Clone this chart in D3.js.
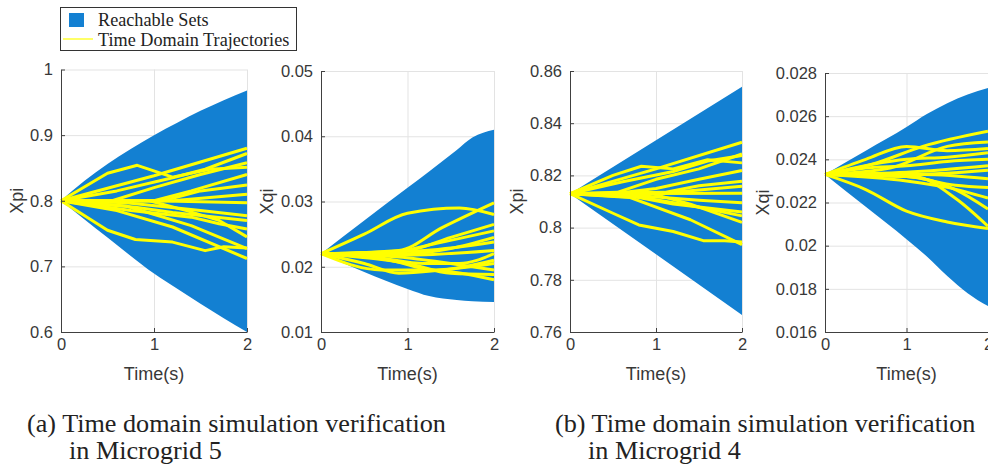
<!DOCTYPE html>
<html>
<head>
<meta charset="utf-8">
<script src="https://cdn.jsdelivr.net/npm/d3@7"></script>
<style>
  body { margin: 0; background: #fff; }
  svg { display: block; }
  .tick text { font-family: "Liberation Sans", Arial, sans-serif; font-size: 16.5px; fill: #383838; }
  .axis path, .axis line { stroke: #404040; }
  .grid line { stroke: #e3e3e3; }
  .grid path { display: none; }
  .lbl { font-family: "Liberation Sans", Arial, sans-serif; font-size: 18px; fill: #383838; }
  .serif { font-family: "Liberation Serif", "Times New Roman", serif; fill: #222; }
</style>
</head>
<body>
<div id="graph"></div>
<script>
// ---- data ----
const timeTicks = [0, 1, 2];

// Microgrid 5, Xpi
const mg5XpiTicks = [0.6, 0.7, 0.8, 0.9, 1];
const mg5XpiEnvT = [0, 0.25, 0.5, 0.75, 1, 1.25, 1.5, 1.75, 2];
const mg5XpiUpper = [0.8, 0.83, 0.856, 0.879, 0.9, 0.919, 0.937, 0.953, 0.968];
const mg5XpiLower = [0.8, 0.772, 0.744, 0.716, 0.689, 0.666, 0.643, 0.621, 0.6];
const mg5XpiTraj = [
  [[0, 0.8], [0.5, 0.842], [0.82, 0.854], [1.2, 0.836], [1.6, 0.848], [2, 0.851]],
  [[0, 0.8], [1, 0.838], [2, 0.88]],
  [[0, 0.8], [0.6, 0.815], [1.2, 0.835], [1.55, 0.848], [2, 0.872]],
  [[0, 0.8], [0.55, 0.8], [1, 0.82], [1.5, 0.84], [2, 0.858]],
  [[0, 0.8], [1.0, 0.8], [1.4, 0.815], [2, 0.84]],
  [[0, 0.8], [1.1, 0.8], [1.5, 0.815], [2, 0.824]],
  [[0, 0.8], [1.2, 0.8], [2, 0.81]],
  [[0, 0.8], [1.0, 0.8], [2, 0.797]],
  [[0, 0.8], [0.7, 0.797], [1.5, 0.785], [2, 0.777]],
  [[0, 0.8], [0.8, 0.79], [1.2, 0.782], [2, 0.77]],
  [[0, 0.8], [0.75, 0.785], [1.4, 0.775], [1.7, 0.765], [2, 0.757]],
  [[0, 0.8], [0.7, 0.792], [1.4, 0.762], [2, 0.727]],
  [[0, 0.8], [0.5, 0.755], [0.8, 0.741], [1.2, 0.737], [1.55, 0.724], [1.75, 0.73], [2, 0.728]],
  [[0, 0.8], [0.6, 0.785], [1.2, 0.76], [2, 0.712]],
  [[0, 0.8], [0.95, 0.8], [1.35, 0.785], [1.7, 0.77], [2, 0.745]]
];

// Microgrid 5, Xqi
const mg5XqiTicks = [0.01, 0.02, 0.03, 0.04, 0.05];
const mg5XqiEnvT = [0, 0.5, 1, 1.25, 1.57, 1.75, 2];
const mg5XqiUpper = [0.022, 0.0271, 0.0321, 0.0346, 0.0379, 0.0398, 0.041];
const mg5XqiLower = [0.022, 0.0192, 0.0166, 0.0155, 0.0149, 0.0147, 0.0146];
const mg5XqiTraj = [
  [[0, 0.022], [0.5, 0.025], [1, 0.0282], [1.6, 0.029], [2, 0.028]],
  [[0, 0.022], [0.9, 0.0225], [1.4, 0.026], [2, 0.0298]],
  [[0, 0.022], [1, 0.0225], [1.5, 0.0245], [2, 0.0265]],
  [[0, 0.022], [0.8, 0.0222], [1.3, 0.0235], [2, 0.0255]],
  [[0, 0.022], [1, 0.022], [1.5, 0.0228], [2, 0.0245]],
  [[0, 0.022], [1.2, 0.0225], [2, 0.0238]],
  [[0, 0.022], [1, 0.0218], [2, 0.0225]],
  [[0, 0.022], [0.6, 0.0215], [1.2, 0.0205], [1.6, 0.0205], [2, 0.022]],
  [[0, 0.022], [0.8, 0.021], [1.3, 0.0195], [2, 0.021]],
  [[0, 0.022], [0.5, 0.0205], [0.9, 0.019], [1.4, 0.0195], [2, 0.0205]],
  [[0, 0.022], [0.7, 0.0195], [1.2, 0.0195], [2, 0.018]],
  [[0, 0.022], [1, 0.0205], [1.5, 0.019], [2, 0.0188]],
  [[0, 0.022], [0.9, 0.0215], [1.5, 0.0205], [2, 0.0195]]
];

// Microgrid 4, Xpi
const mg4XpiTicks = [0.76, 0.78, 0.8, 0.82, 0.84, 0.86];
const mg4XpiEnvT = [0, 1, 2];
const mg4XpiUpper = [0.813, 0.8335, 0.854];
const mg4XpiLower = [0.813, 0.7898, 0.7665];
const mg4XpiTraj = [
  [[0, 0.813], [0.5, 0.82], [0.83, 0.8235], [1.2, 0.8225], [1.6, 0.826], [2, 0.8248]],
  [[0, 0.813], [1, 0.8225], [2, 0.8327]],
  [[0, 0.813], [0.6, 0.8175], [1.2, 0.8215], [1.6, 0.8255], [2, 0.8276]],
  [[0, 0.813], [0.55, 0.8135], [1, 0.8185], [1.5, 0.8225], [2, 0.8282]],
  [[0, 0.813], [0.5, 0.813], [1, 0.815], [1.5, 0.8185], [2, 0.8219]],
  [[0, 0.813], [1.1, 0.8135], [1.5, 0.816], [2, 0.8178]],
  [[0, 0.813], [1.2, 0.8135], [2, 0.8158]],
  [[0, 0.813], [2, 0.8132]],
  [[0, 0.813], [0.7, 0.8125], [1.5, 0.8105], [2, 0.8095]],
  [[0, 0.813], [0.8, 0.8115], [1.2, 0.809], [2, 0.806]],
  [[0, 0.813], [0.75, 0.812], [1.4, 0.8085], [2, 0.8045]],
  [[0, 0.813], [0.7, 0.8115], [1.4, 0.803], [2, 0.7935]],
  [[0, 0.813], [0.5, 0.8055], [0.8, 0.801], [1.2, 0.7985], [1.55, 0.795], [1.8, 0.795], [2, 0.7945]],
  [[0, 0.813], [0.95, 0.813], [1.4, 0.809], [2, 0.802]]
];

// Microgrid 4, Xqi
const mg4XqiTicks = [0.016, 0.018, 0.02, 0.022, 0.024, 0.026, 0.028];
const mg4XqiEnvT = [0, 0.5, 1, 1.25, 1.5, 1.75, 2];
const mg4XqiUpper = [0.0233, 0.0244, 0.0255, 0.0261, 0.0266, 0.027, 0.0273];
const mg4XqiLower = [0.0233, 0.0218, 0.0203, 0.0195, 0.0186, 0.0178, 0.0172];
const mg4XqiTraj = [
  [[0, 0.0233], [0.5, 0.024], [1, 0.0246], [1.5, 0.0244], [2, 0.0245]],
  [[0, 0.0233], [0.6, 0.0238], [1.2, 0.0246], [2, 0.0253]],
  [[0, 0.0233], [0.8, 0.0236], [1.5, 0.0246], [2, 0.0248]],
  [[0, 0.0233], [1, 0.024], [1.5, 0.0241], [2, 0.0243]],
  [[0, 0.0233], [0.5, 0.0236], [1, 0.0237], [1.5, 0.0239], [2, 0.024]],
  [[0, 0.0233], [1, 0.0234], [2, 0.0237]],
  [[0, 0.0233], [1, 0.0233], [2, 0.0235]],
  [[0, 0.0233], [1.2, 0.0233], [2, 0.0231]],
  [[0, 0.0233], [1, 0.0232], [1.6, 0.0228], [2, 0.0227]],
  [[0, 0.0233], [1, 0.023], [1.5, 0.0227], [2, 0.0222]],
  [[0, 0.0233], [1.1, 0.0232], [1.6, 0.0222], [2, 0.0209]],
  [[0, 0.0233], [0.5, 0.0226], [1, 0.0216], [1.5, 0.0211], [2, 0.0208]],
  [[0, 0.0233], [1, 0.0232], [1.6, 0.0226], [2, 0.0217]]
];

const legendLabels = ["Reachable Sets", "Time Domain Trajectories"];
const captions = [
  ["(a) Time domain simulation verification", "in Microgrid 5"],
  ["(b) Time domain simulation verification", "in Microgrid 4"]
];

// ---- layout ----
const width = 988, height = 469;
const fillColor = "#1380d2";
const trajColor = "#ffff00";

const panels = [
  {label: "Xpi", ticks: mg5XpiTicks, envT: mg5XpiEnvT, upper: mg5XpiUpper, lower: mg5XpiLower, traj: mg5XpiTraj, smooth: false,
   left: 61, right: 247, top: 69.5, bottom: 332, labelX: 23},
  {label: "Xqi", ticks: mg5XqiTicks, envT: mg5XqiEnvT, upper: mg5XqiUpper, lower: mg5XqiLower, traj: mg5XqiTraj, smooth: true,
   left: 321, right: 494, top: 71, bottom: 332, labelX: 273},
  {label: "Xpi", ticks: mg4XpiTicks, envT: mg4XpiEnvT, upper: mg4XpiUpper, lower: mg4XpiLower, traj: mg4XpiTraj, smooth: false,
   left: 570, right: 742, top: 71, bottom: 332, labelX: 523},
  {label: "Xqi", ticks: mg4XqiTicks, envT: mg4XqiEnvT, upper: mg4XqiUpper, lower: mg4XqiLower, traj: mg4XqiTraj, smooth: true,
   left: 825, right: 988, top: 73, bottom: 332, labelX: 769}
];

let svg = d3.select("#graph").append("svg")
  .attr("width", width)
  .attr("height", height);

panels.forEach(function(p) {
  let x = d3.scaleLinear().domain([0, 2]).range([p.left, p.right]);
  let y = d3.scaleLinear().domain(d3.extent(p.ticks)).range([p.bottom, p.top]);
  let g = svg.append("g");

  // grid
  g.append("g")
    .attr("class", "grid")
    .attr("transform", `translate(0, ${p.bottom})`)
    .call(d3.axisBottom(x).tickValues(timeTicks).tickSize(-(p.bottom - p.top)).tickFormat(""));
  g.append("g")
    .attr("class", "grid")
    .attr("transform", `translate(${p.left}, 0)`)
    .call(d3.axisLeft(y).tickValues(p.ticks).tickSize(-(p.right - p.left)).tickFormat(""));

  // reachable set
  const env = p.envT.map((t, i) => ({t: t, hi: p.upper[i], lo: p.lower[i]}));
  g.append("path")
    .datum(env)
    .attr("fill", fillColor)
    .attr("d", d3.area()
      .curve(p.envT.length > 3 ? d3.curveMonotoneX : d3.curveLinear)
      .x(d => x(d.t))
      .y0(d => y(d.lo))
      .y1(d => y(d.hi)));

  // trajectories
  const line = d3.line()
    .curve(p.smooth ? d3.curveMonotoneX : d3.curveLinear)
    .x(d => x(d[0]))
    .y(d => y(d[1]));
  g.selectAll(".traj")
    .data(p.traj)
    .enter()
    .append("path")
    .attr("class", "traj")
    .attr("fill", "none")
    .attr("stroke", trajColor)
    .attr("stroke-width", 3)
    .attr("stroke-linejoin", "round")
    .attr("d", line);

  // axes
  g.append("g")
    .attr("class", "axis")
    .attr("transform", `translate(${p.left}, 0)`)
    .call(d3.axisLeft(y).tickValues(p.ticks).tickSize(-4).tickSizeOuter(0).tickPadding(8).tickFormat(d => String(d)));
  g.append("g")
    .attr("class", "axis")
    .attr("transform", `translate(0, ${p.bottom})`)
    .call(d3.axisBottom(x).tickValues(timeTicks).tickSize(-4).tickSizeOuter(0).tickPadding(6).tickFormat(d => String(d)));

  g.append("text")
    .attr("class", "lbl")
    .attr("transform", `translate(${p.labelX}, ${(p.top + p.bottom) / 2}) rotate(-90)`)
    .style("text-anchor", "middle")
    .text(p.label);
  g.append("text")
    .attr("class", "lbl")
    .attr("x", (p.left + p.right) / 2)
    .attr("y", 380)
    .style("text-anchor", "middle")
    .text("Time(s)");
});

// legend
let legend = svg.append("g");
legend.append("rect")
  .attr("x", 60.5).attr("y", 7.5).attr("width", 236).attr("height", 43)
  .attr("fill", "#fff").attr("stroke", "#333").attr("stroke-width", 1);
legend.append("rect")
  .attr("x", 69).attr("y", 13).attr("width", 15).attr("height", 14)
  .attr("fill", fillColor);
legend.append("line")
  .attr("x1", 63).attr("x2", 93).attr("y1", 39).attr("y2", 39)
  .attr("stroke", trajColor).attr("stroke-width", 1.2);
legend.selectAll(".legtext")
  .data(legendLabels)
  .enter()
  .append("text")
  .attr("class", "serif legtext")
  .attr("x", 98)
  .attr("y", (d, i) => 26 + i * 19.5)
  .style("font-size", "18.2px")
  .text(d => d);

// captions
const capX = [[27, 69], [555, 588]];
captions.forEach(function(c, i) {
  c.forEach(function(line, j) {
    svg.append("text")
      .attr("class", "serif")
      .attr("x", capX[i][j])
      .attr("y", 432 + j * 27)
      .style("font-size", "26.2px")
      .text(line);
  });
});
</script>
</body>
</html>
